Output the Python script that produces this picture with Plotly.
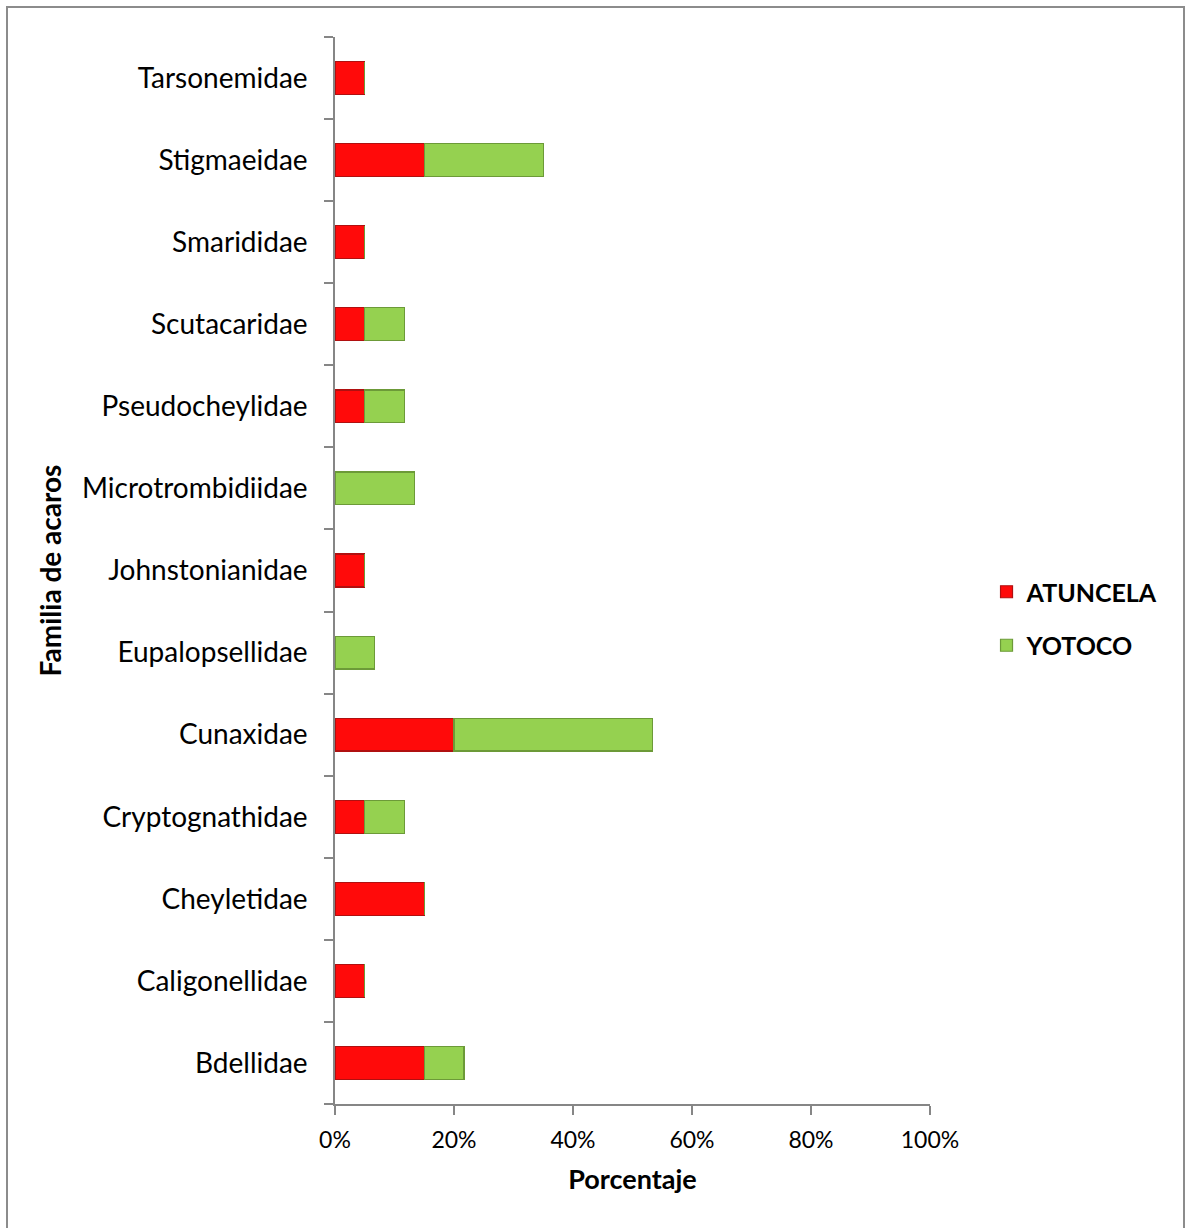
import plotly.graph_objects as go

# Mite families (bottom to top) and share of each site's total (%)
families = [
    "Bdellidae", "Caligonellidae", "Cheyletidae", "Cryptognathidae", "Cunaxidae",
    "Eupalopsellidae", "Johnstonianidae", "Microtrombidiidae", "Pseudocheylidae",
    "Scutacaridae", "Smarididae", "Stigmaeidae", "Tarsonemidae",
]
atuncela = [15, 5, 15, 5, 20, 0, 5, 0, 5, 5, 5, 15, 5]
yotoco = [6.67, 0, 0, 6.67, 33.33, 6.67, 0, 13.33, 6.67, 6.67, 0, 20, 0]
x_ticks = [0, 20, 40, 60, 80, 100]

FONT = "Lato, 'Open Sans', sans-serif"
AXIS_GRAY = "#868686"

fig = go.Figure()
fig.add_trace(go.Bar(
    y=families, x=atuncela, name="ATUNCELA", orientation="h", legendgroup="a",
    marker=dict(color="#FF0A0A", line=dict(color="#B01010", width=1.2)),
))
fig.add_trace(go.Bar(
    y=families, x=yotoco, name="YOTOCO", orientation="h", legendgroup="y",
    marker=dict(color="#95D150", line=dict(color="#6C9A38", width=1.2)),
))

fig.update_layout(
    barmode="stack",
    bargap=0.6,
    width=1186, height=1228,
    margin=dict(l=335, r=256, t=37, b=124),
    paper_bgcolor="white", plot_bgcolor="white",
    font=dict(family=FONT, size=22, color="black"),
    legend=dict(
        x=1.095, y=0.455, xanchor="left", yanchor="middle",
        font=dict(family=FONT, size=25, color="black", weight="bold"),
        itemwidth=30, tracegroupgap=18, traceorder="grouped",
    ),
    xaxis=dict(
        range=[0, 100], tickvals=x_ticks,
        ticktext=[f"{v}%" for v in x_ticks],
        showgrid=False, zeroline=False,
        showline=True, linecolor=AXIS_GRAY, linewidth=1.5,
        ticks="outside", ticklen=9, tickcolor=AXIS_GRAY, tickwidth=1.5,
        tickfont=dict(size=23), ticklabelstandoff=6,
        title=dict(text="Porcentaje", font=dict(size=27, weight="bold"), standoff=18),
    ),
    yaxis=dict(
        categoryorder="array", categoryarray=families,
        showgrid=False, zeroline=False,
        showline=True, linecolor=AXIS_GRAY, linewidth=1.5,
        ticks="outside", tickson="boundaries", ticklen=9,
        tickcolor=AXIS_GRAY, tickwidth=1.5,
        tickfont=dict(size=28), ticklabelstandoff=20,
        title=dict(text="Familia de acaros", font=dict(size=28, weight="bold"), standoff=12),
    ),
)

# x axis line extends slightly left of the y axis, as in the chart frame
fig.add_shape(type="line", xref="x", yref="paper", x0=-1.5, x1=0, y0=0, y1=0,
              line=dict(color=AXIS_GRAY, width=1.5))

# chart border
fig.add_shape(type="rect", xref="paper", yref="paper",
              x0=-328 / 595, x1=(1184 - 335) / 595, y0=-1.2, y1=(1104 - 7) / 1067,
              line=dict(color="#8C8C8C", width=2), fillcolor="rgba(0,0,0,0)",
              layer="below")

fig.write_html("out.html")
